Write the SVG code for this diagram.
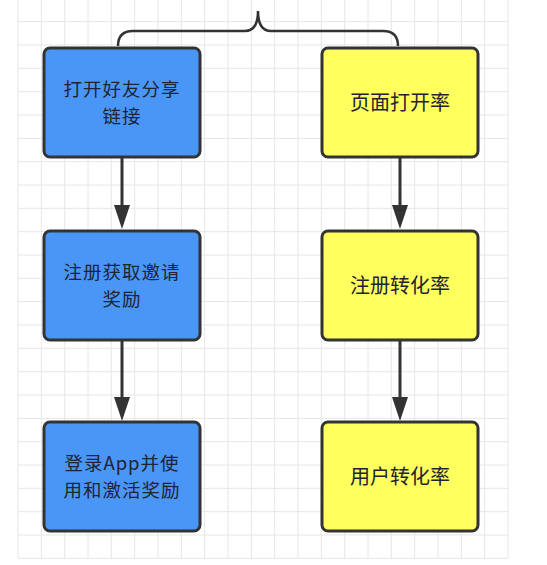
<svg xmlns="http://www.w3.org/2000/svg" width="547" height="565" viewBox="0 0 547 565">
<style>
.grid{stroke:#e6e6e6;stroke-width:1;fill:none}
.box{stroke:#333;stroke-width:3}
.blue{fill:#4a96f7}
.yellow{fill:#ffff5e}
.lbl{font-family:"Noto Sans CJK SC","Noto Sans",sans-serif;font-size:20px;fill:#1e2430;text-anchor:middle}
.two{font-size:18.5px;letter-spacing:1px}
.edge{stroke:#333;stroke-width:3;fill:none}
.head{fill:#333}
.brace{stroke:#333;stroke-width:2.5;fill:none}
</style>
<rect width="547" height="565" fill="#fff"/>
<path class="grid" d="M18 0V558.3M41.33 0V558.3M64.67 0V558.3M88 0V558.3M111.33 0V558.3M134.67 0V558.3M158 0V558.3M181.33 0V558.3M204.67 0V558.3M228 0V558.3M251.33 0V558.3M274.67 0V558.3M298 0V558.3M321.33 0V558.3M344.67 0V558.3M368 0V558.3M391.33 0V558.3M414.67 0V558.3M438 0V558.3M461.33 0V558.3M484.67 0V558.3M508 0V558.3M18 21.67H508M18 45H508M18 68.33H508M18 91.67H508M18 115H508M18 138.33H508M18 161.67H508M18 185H508M18 208.33H508M18 231.67H508M18 255H508M18 278.33H508M18 301.67H508M18 325H508M18 348.33H508M18 371.67H508M18 395H508M18 418.33H508M18 441.67H508M18 465H508M18 488.33H508M18 511.67H508M18 535H508M18 558.33H508"/>
<g id="connectors">
<path class="brace" d="M118 46 Q118 31 133 31 H245 Q258 31 258 11 Q258 31 271 31 H383 Q398 31 398 46"/>
<path class="edge" d="M122 157 V205"/>
<path class="head" d="M114 205 L130 205 L122 229 Z"/>
<path class="edge" d="M122 340 V397"/>
<path class="head" d="M114 397 L130 397 L122 421 Z"/>
<path class="edge" d="M400 157 V205"/>
<path class="head" d="M392 205 L408 205 L400 229 Z"/>
<path class="edge" d="M400 340 V397"/>
<path class="head" d="M392 397 L408 397 L400 421 Z"/>
</g>
<g id="n1">
<rect class="box blue" x="44" y="48" width="156" height="109" rx="6"/>
<text class="lbl two" x="122" y="95.5"><tspan x="122" y="95.5">打开好友分享</tspan><tspan x="122" y="122.5">链接</tspan></text>
</g>
<g id="n2">
<rect class="box blue" x="44" y="231" width="156" height="109" rx="6"/>
<text class="lbl two" x="122" y="278.5"><tspan x="122" y="278.5">注册获取邀请</tspan><tspan x="122" y="305.5">奖励</tspan></text>
</g>
<g id="n3">
<rect class="box blue" x="44" y="422" width="156" height="109" rx="6"/>
<text class="lbl two" x="122" y="469.5"><tspan x="122" y="469.5">登录App并使</tspan><tspan x="122" y="496.5">用和激活奖励</tspan></text>
</g>
<g id="n4">
<rect class="box yellow" x="322" y="48" width="156" height="109" rx="6"/>
<text class="lbl" x="400" y="110">页面打开率</text>
</g>
<g id="n5">
<rect class="box yellow" x="322" y="231" width="156" height="109" rx="6"/>
<text class="lbl" x="400" y="293">注册转化率</text>
</g>
<g id="n6">
<rect class="box yellow" x="322" y="422" width="156" height="109" rx="6"/>
<text class="lbl" x="400" y="484">用户转化率</text>
</g>
</svg>
